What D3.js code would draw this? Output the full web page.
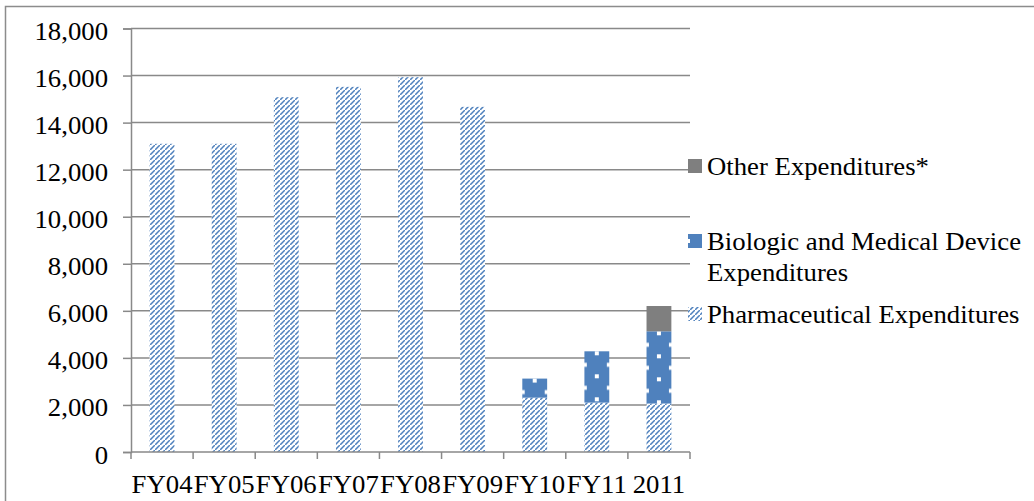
<!DOCTYPE html>
<html>
<head>
<meta charset="utf-8">
<script src="https://cdn.jsdelivr.net/npm/d3@7"></script>
<style>
  body { margin: 0; background: #fff; }
  text { font-family: "Liberation Serif", "Times New Roman", serif; fill: #000; }
</style>
</head>
<body>
<script>
// chart data
var categories = ["FY04", "FY05", "FY06", "FY07", "FY08", "FY09", "FY10", "FY11", "2011"];
var pharma = [13100, 13100, 15080, 15520, 15930, 14670, 2310, 2100, 2060];
var bioMed = [0, 0, 0, 0, 0, 0, 810, 2180, 3070];
var other = [0, 0, 0, 0, 0, 0, 0, 0, 1075];
var yTicks = [0, 2000, 4000, 6000, 8000, 10000, 12000, 14000, 16000, 18000];
var seriesKeys = ["pharma", "bioMed", "other"];
var legendLabels = [
    ["Other Expenditures*"],
    ["Biologic and Medical Device", "Expenditures"],
    ["Pharmaceutical Expenditures"]
];
var legendKeys = ["other", "bioMed", "pharma"];

var W = 1034, H = 501;
var plot = {left: 131, right: 690, top: 28.5, bottom: 452};
var gridColor = "#898989";
var blue = "#4f81bd";
var stretch = "scale(1.07,1)"; // the source text is a bit wider than Times

var svg = d3.select("body").append("svg")
    .attr("width", W)
    .attr("height", H);

var defs = svg.append("defs");

// hatch pattern for pharmaceutical: short diagonal dashes
var hatch = defs.append("pattern")
    .attr("id", "hatch")
    .attr("patternUnits", "userSpaceOnUse")
    .attr("width", 5).attr("height", 5);
hatch.append("rect").attr("width", 5).attr("height", 5).attr("fill", "#fff");
hatch.append("path")
    .attr("d", "M0.7,4.3 L4.3,0.7")
    .attr("stroke", blue)
    .attr("stroke-width", 1.5)
    .attr("stroke-linecap", "square");

// dotted pattern for biologic (one per bar so the dots line up)
function dotPattern(id, ox, oy) {
    var p = defs.append("pattern")
        .attr("id", id)
        .attr("patternUnits", "userSpaceOnUse")
        .attr("width", 24).attr("height", 23)
        .attr("patternTransform", "translate(" + ox + "," + oy + ")");
    p.append("rect").attr("width", 24).attr("height", 23).attr("fill", blue);
    p.append("rect").attr("x", 0).attr("y", 0).attr("width", 4).attr("height", 4).attr("fill", "#fff");
    p.append("rect").attr("x", 12).attr("y", 11.5).attr("width", 4).attr("height", 4).attr("fill", "#fff");
    return "url(#" + id + ")";
}

// outer frame
svg.append("rect")
    .attr("x", 5.5).attr("y", 6.5)
    .attr("width", W + 20).attr("height", H + 20)
    .attr("fill", "none")
    .attr("stroke", "#8c8c8c")
    .attr("stroke-width", 1.5);

var x = d3.scaleBand()
    .domain(categories)
    .range([plot.left, plot.right])
    .paddingInner(0.6)
    .paddingOuter(0.3);

var y = d3.scaleLinear()
    .domain([0, 18000])
    .range([plot.bottom, plot.top]);

// gridlines
svg.append("g").selectAll("line")
    .data(yTicks.filter(function(d) { return d > 0; }))
    .enter().append("line")
    .attr("x1", plot.left).attr("x2", plot.right)
    .attr("y1", function(d) { return y(d); })
    .attr("y2", function(d) { return y(d); })
    .attr("stroke", gridColor)
    .attr("stroke-width", 1.5);

// stacked data
var table = categories.map(function(c, i) {
    return {cat: c, pharma: pharma[i], bioMed: bioMed[i], other: other[i]};
});
var stacked = d3.stack().keys(seriesKeys)(table);

var fills = {
    pharma: function() { return "url(#hatch)"; },
    bioMed: function(d, i) {
        return dotPattern("dots" + i, x(d.data.cat) + x.bandwidth() / 2 - 2, y(d[1]));
    },
    other: function() { return "#7f7f7f"; }
};

svg.append("g").selectAll("g")
    .data(stacked)
    .enter().append("g")
    .each(function(layer) {
        d3.select(this).selectAll("rect")
            .data(layer.filter(function(d) { return d[1] - d[0] > 0; }))
            .enter().append("rect")
            .attr("x", function(d) { return x(d.data.cat); })
            .attr("y", function(d) { return y(d[1]); })
            .attr("width", x.bandwidth())
            .attr("height", function(d) { return y(d[0]) - y(d[1]); })
            .attr("fill", function(d) { return fills[layer.key](d, categories.indexOf(d.data.cat)); });
    });

// y axis
var yAxis = svg.append("g")
    .attr("transform", "translate(" + plot.left + ",0)")
    .call(d3.axisLeft(y).tickValues(yTicks).tickSize(8).tickPadding(15)
        .tickFormat(d3.format(",")));
yAxis.select(".domain").attr("stroke", gridColor).attr("stroke-width", 1.5);
yAxis.selectAll(".tick line").attr("stroke", gridColor).attr("stroke-width", 1.5);
yAxis.selectAll(".tick text")
    .attr("font-size", "25px")
    .attr("x", 0)
    .attr("dy", "0.44em")
    .attr("transform", "translate(-23,0) " + stretch);

// x axis: labels at band centres, ticks at band edges
var xAxis = svg.append("g")
    .attr("transform", "translate(0," + plot.bottom + ")")
    .call(d3.axisBottom(x).tickSize(0).tickPadding(23));
xAxis.select(".domain").remove();
xAxis.selectAll(".tick text")
    .attr("font-size", "25px")
    .attr("transform", stretch);

var edges = categories.map(function(c) { return x(c) - x.step() * x.paddingOuter(); });
edges.push(plot.right);
svg.append("line")
    .attr("x1", plot.left).attr("x2", plot.right)
    .attr("y1", plot.bottom).attr("y2", plot.bottom)
    .attr("stroke", gridColor).attr("stroke-width", 1.5);
svg.append("g").selectAll("line")
    .data(edges)
    .enter().append("line")
    .attr("x1", function(d) { return d; }).attr("x2", function(d) { return d; })
    .attr("y1", plot.bottom).attr("y2", plot.bottom + 7)
    .attr("stroke", gridColor).attr("stroke-width", 1.5);

// legend
var legendMarkerTop = [159, 234, 307];
var legendFill = {
    other: "#7f7f7f",
    bioMed: dotPattern("dotsLegend", 686, 239),
    pharma: "url(#hatch)"
};
var legend = svg.append("g");
legendKeys.forEach(function(k, i) {
    var top = legendMarkerTop[i];
    legend.append("rect")
        .attr("x", 688).attr("y", top)
        .attr("width", 14).attr("height", 14)
        .attr("fill", legendFill[k]);
    var t = legend.append("text")
        .attr("transform", "translate(707," + (top + 16) + ") " + stretch)
        .attr("font-size", "25px");
    legendLabels[i].forEach(function(line, j) {
        t.append("tspan")
            .attr("x", 0)
            .attr("dy", j === 0 ? 0 : 31)
            .text(line);
    });
});
</script>
</body>
</html>
